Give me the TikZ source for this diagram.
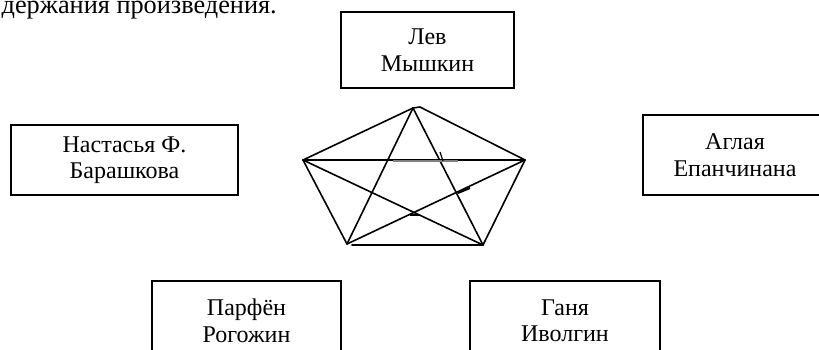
\documentclass[tikz,border=0pt]{standalone}
\usepackage{fontspec}
\setmainfont{Liberation Serif}

\begin{document}
\begin{tikzpicture}[x=1pt, y=-1pt,
    box/.style={draw, line width=1.3pt, inner sep=0pt, align=center,
                font=\fontsize{24}{26.5}\selectfont},
    edge/.style={line width=1.6pt, line cap=round, line join=round},
    stroke/.style={line width=2pt},
]
    \useasboundingbox (0,0) rectangle (819,349);
    \clip (0,0) rectangle (819,349);

    \node[anchor=base east, inner sep=0pt, font=\fontsize{26.3}{30}\selectfont]
        (caption) at (277,13.5) {держания произведения.};

    \node[box, minimum width=173pt, minimum height=76pt] (lev) at (427.5,50) {Лев\\Мышкин};
    \node[box, minimum width=227pt, minimum height=70pt] (nastasya) at (124.5,160) {Настасья Ф.\\Барашкова};
    \node[box, minimum width=184pt, minimum height=80pt] (aglaya) at (735,155) {Аглая\\Епанчинана};
    \node[box, minimum width=189pt, minimum height=80pt] (parfen) at (246.5,321) {Парфён\\Рогожин};
    \node[box, minimum width=190pt, minimum height=80pt] (ganya) at (565,321) {Ганя\\Иволгин};

    % vertices of the pentagon
    \coordinate (pt) at (413,108);
    \coordinate (pt2) at (420,107);
    \coordinate (pl) at (303,160);
    \coordinate (pr) at (525,160);
    \coordinate (pbl) at (347,244);
    \coordinate (pbl2) at (352,245);
    \coordinate (pbr) at (483,245);

    % outline
    \draw[edge] (pbl) -- (pl) -- (pt) -- (pt2) -- (pr) -- (pbr) -- (pbl2);
    % star
    \draw[edge] (pt) -- (pbl);
    \draw[edge] (pt) -- (pbr);
    \draw[edge] (pl) -- (pr);
    \draw[edge] (pl) -- (pbr);
    \draw[edge] (pr) -- (pbl);

    % stray strokes
    \draw[stroke, gray] (393,160.8) -- (458,160.8);
    \draw[line width=1.2pt] (440,152) -- (443,161);
    \draw[stroke] (458,193) -- (470,188);
    \draw[stroke] (410,215) -- (420,215);
\end{tikzpicture}
\end{document}
